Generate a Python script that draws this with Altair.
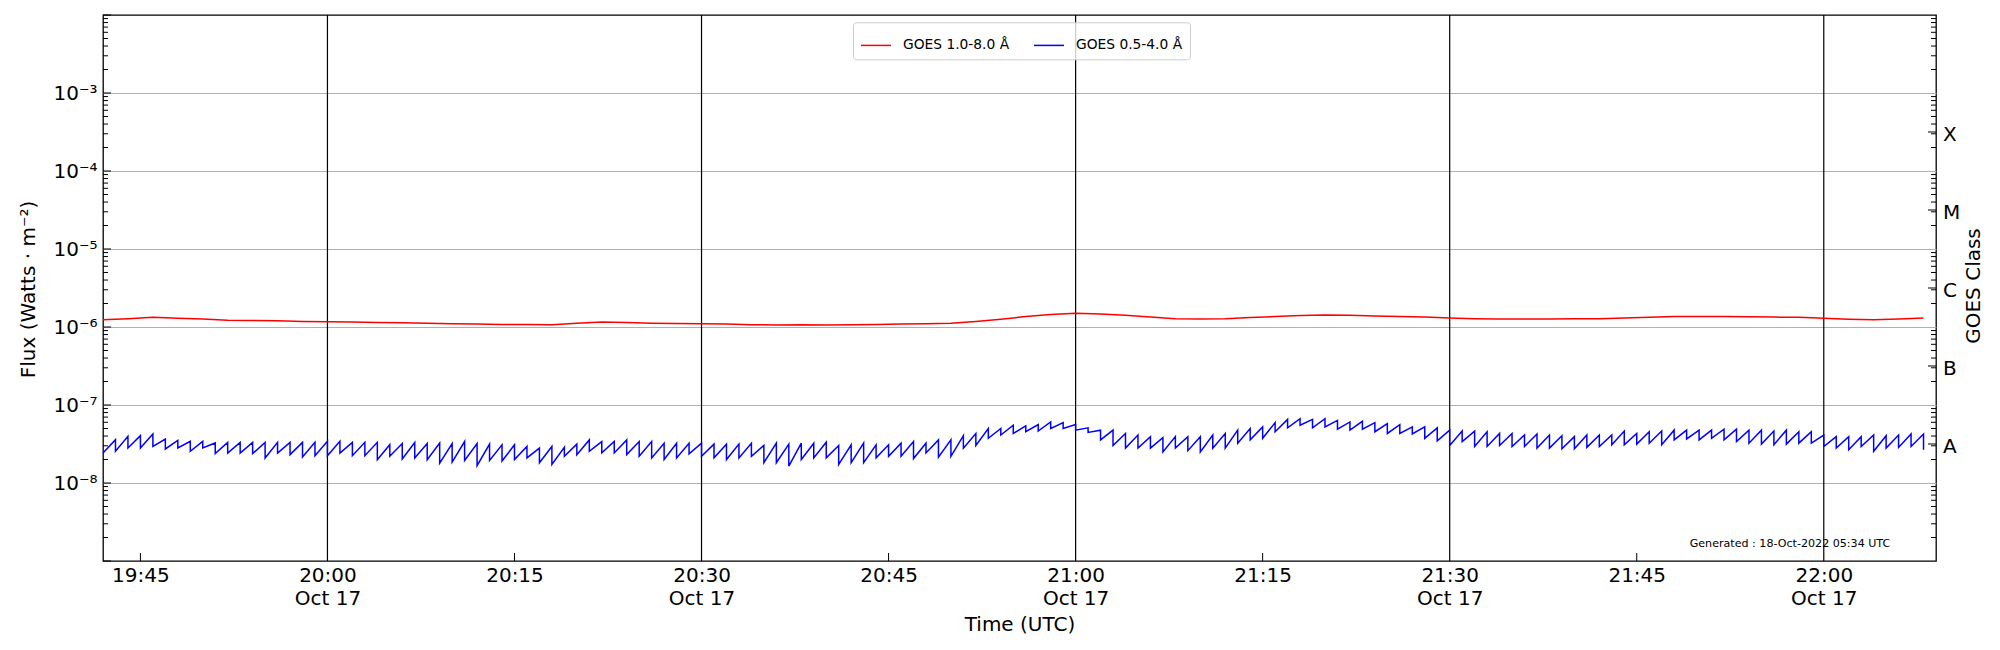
import altair as alt
import pandas as pd

LABEL_RED = "GOES 1.0-8.0 Å"
LABEL_BLUE = "GOES 0.5-4.0 Å"
FONT = "DejaVu Sans"

# ---- GOES 0.5-4.0 A (units of 1e-8 W m^-2) ----
blue_start = 2.43  # value at 19:42
# value reached just before each minute jump (19:43 ... 22:08)
blue_top = [
    3.59, 3.97, 4.05, 4.25, 3.66, 3.52, 3.42, 3.42, 3.26, 3.32, 3.32, 3.32, 3.32, 3.32, 3.32, 3.32, 3.32,
    3.42, 3.42, 3.32, 3.32, 3.32, 3.10, 3.20, 3.30, 3.20, 3.26,
    3.20, 3.40, 3.20, 3.15, 3.09, 3.09, 2.94, 2.80, 2.94, 2.86,
    3.15, 3.57, 3.40, 3.40, 3.57, 3.40, 3.40, 3.24, 3.24, 3.24,
    3.24, 3.15, 3.15, 3.15, 3.24, 3.03, 3.24, 3.15, 3.24, 3.24,
    3.33, 3.03, 3.09, 3.24, 3.09, 3.09, 3.24, 3.40, 3.24, 3.57,
    3.57, 4.04, 4.32, 5.00, 5.00, 5.50, 5.40, 5.61, 6.06, 5.94,
    5.61, 5.09, 4.76, 4.76, 4.32, 4.12, 3.93, 3.82, 3.93, 3.93,
    3.93, 4.12, 4.32, 4.76, 5.00, 5.24, 5.94, 6.54, 6.67, 6.54,
    6.67, 6.35, 6.06, 6.18, 5.94, 5.78, 5.61, 5.24, 5.24, 5.09,
    4.76, 4.63, 4.63, 4.54, 4.32, 4.32, 4.12, 4.25, 4.12, 4.04,
    3.93, 4.12, 4.12, 4.12, 4.63, 4.32, 4.54, 4.63, 4.76, 4.76,
    4.76, 4.76, 4.90, 4.90, 4.76, 4.76, 4.63, 4.76, 4.54, 4.54,
    4.12, 3.93, 3.93, 3.93, 4.12, 4.04, 4.12, 4.25, 4.25,
]
# value right after each minute jump (19:43 ... 22:08)
blue_bottom = [
    2.55, 2.81, 2.81, 2.95, 2.73, 2.81, 2.55, 2.81, 2.38, 2.42, 2.42, 2.38, 2.09, 2.42, 2.31, 2.15, 2.24,
    2.24, 2.42, 2.24, 2.24, 1.99, 2.20, 2.03, 2.09, 1.99, 1.80,
    1.85, 1.95, 1.67, 1.95, 1.91, 2.00, 2.10, 1.82, 1.73, 2.20,
    2.31, 2.55, 2.43, 2.43, 2.31, 2.20, 2.10, 2.00, 2.10, 2.36,
    2.20, 2.10, 2.00, 2.10, 2.20, 1.82, 1.82, 1.65, 2.00, 2.10,
    2.10, 1.73, 1.82, 1.82, 2.10, 2.20, 2.20, 2.06, 2.43, 2.14,
    2.20, 2.80, 3.03, 3.74, 4.12, 4.32, 4.54, 4.63, 5.00, 5.00,
    4.76, 4.45, 3.57, 3.03, 2.80, 2.80, 2.80, 2.50, 2.80, 2.60,
    2.50, 2.80, 2.80, 3.24, 3.57, 3.74, 4.54, 5.09, 5.50, 5.09,
    5.24, 4.90, 4.76, 4.90, 4.54, 4.32, 4.32, 4.25, 3.74, 3.47,
    3.03, 3.40, 2.94, 2.94, 3.03, 2.94, 2.94, 2.80, 2.80, 2.75,
    2.75, 2.86, 2.94, 3.09, 3.09, 3.15, 3.24, 3.09, 3.57, 3.67,
    3.57, 3.74, 3.57, 3.40, 3.24, 3.15, 3.09, 3.15, 3.24, 3.24,
    2.94, 2.80, 2.67, 2.94, 2.55, 2.80, 2.86, 2.94, 2.67,
]

# ---- GOES 1.0-8.0 A (units of 1e-6 W m^-2), every 2 minutes 19:42 ... 22:08 ----
red_vals = [
    1.24, 1.28, 1.33, 1.29, 1.27, 1.22, 1.21, 1.20, 1.18,
    1.17, 1.16, 1.14, 1.13, 1.12, 1.10, 1.09, 1.08, 1.08, 1.07,
    1.12, 1.16, 1.14, 1.12, 1.11, 1.10, 1.09, 1.07, 1.06, 1.07,
    1.06, 1.07, 1.08, 1.09, 1.10, 1.12, 1.18, 1.26, 1.36, 1.45,
    1.50, 1.47, 1.41, 1.34, 1.28, 1.27, 1.28, 1.32, 1.36, 1.40,
    1.42, 1.41, 1.38, 1.36, 1.34, 1.30, 1.28, 1.27, 1.27, 1.27,
    1.28, 1.28, 1.30, 1.33, 1.36, 1.36, 1.36, 1.35, 1.34, 1.33,
    1.29, 1.26, 1.24, 1.27, 1.30,
]

x_label_times = ["19:45", "20:00", "20:15", "20:30", "20:45", "21:00",
                 "21:15", "21:30", "21:45", "22:00"]
x_major_times = ["20:00", "20:30", "21:00", "21:30", "22:00"]
x_minor_times = ["19:45", "20:15", "20:45", "21:15", "21:45"]
y_label_vals = [1e-8, 1e-7, 1e-6, 1e-5, 1e-4, 1e-3]
class_names = ["A", "B", "C", "M", "X"]
class_exps = [-7.5, -6.5, -5.5, -4.5, -3.5]
GENERATED = "Generated : 18-Oct-2022 05:34 UTC"

DAY = "2022-10-17"


def iso(hm):
    return f"{DAY}T{hm}:00Z"


def ms(hm):
    return int(pd.Timestamp(iso(hm)).value // 10**6)


W, H = 1833, 546

# ---- build line table ----
rows = [{"t": iso("19:42"), "flux": blue_start * 1e-8, "series": LABEL_BLUE, "o": 0}]
minutes = pd.date_range(f"{DAY} 19:43", f"{DAY} 22:08", freq="1min")
for i, m in enumerate(minutes):
    ts = m.strftime("%Y-%m-%dT%H:%M:%SZ")
    rows.append({"t": ts, "flux": blue_top[i] * 1e-8, "series": LABEL_BLUE, "o": 2 * i + 1})
    rows.append({"t": ts, "flux": blue_bottom[i] * 1e-8, "series": LABEL_BLUE, "o": 2 * i + 2})
red_times = pd.date_range(f"{DAY} 19:42", f"{DAY} 22:08", freq="2min")
for i, m in enumerate(red_times):
    rows.append({"t": m.strftime("%Y-%m-%dT%H:%M:%SZ"), "flux": red_vals[i] * 1e-6,
                 "series": LABEL_RED, "o": i})
lines_df = pd.DataFrame(rows)

xscale = alt.Scale(type="utc", domain=[ms("19:42"), ms("22:09")])
yscale = alt.Scale(type="log", domain=[1e-9, 1e-2], nice=False)

sup = "['⁰','¹','²','³','⁴','⁵','⁶','⁷','⁸','⁹']"

lines = alt.Chart(lines_df).mark_line(strokeWidth=1.5).encode(
    x=alt.X("t:T", scale=xscale, axis=alt.Axis(
        values=[ms(t) for t in x_label_times],
        labelExpr="utcminutes(datum.value) % 30 == 0 ? [utcFormat(datum.value, '%H:%M'), utcFormat(datum.value, '%b %d')] : utcFormat(datum.value, '%H:%M')",
        ticks=False, tickSize=0, domain=False, grid=False,
        labelFontSize=20, labelPadding=4, labelLineHeight=23, labelColor="black",
        labelOverlap=False, labelFlush=False,
        title="Time (UTC)", titleFontSize=20, titleFontWeight="normal", titleColor="black",
        titleY=69, titleBaseline="alphabetic")),
    y=alt.Y("flux:Q", scale=yscale, axis=alt.Axis(
        values=y_label_vals,
        labelExpr="'10⁻' + " + sup + "[round(-log(datum.value)/LN10)]",
        ticks=False, tickSize=0, domain=False, grid=True, gridColor="#b0b0b0", gridWidth=1,
        labelFontSize=20, labelPadding=6, labelColor="black", labelOverlap=False,
        title="Flux (Watts · m⁻²)", titleFontSize=20, titleFontWeight="normal", titleColor="black",
        titleX=-75, titleY=274, titleAngle=270, titleAlign="center", titleBaseline="middle")),
    color=alt.Color("series:N",
                    scale=alt.Scale(domain=[LABEL_RED, LABEL_BLUE], range=["#ff0000", "#0000ff"]),
                    legend=alt.Legend(title=None, orient="none", legendX=750, legendY=7.3,
                                      direction="horizontal", columns=2,
                                      symbolType="stroke", symbolSize=900, symbolStrokeWidth=1.5,
                                      labelFontSize=13.8, labelFont=FONT, labelColor="black",
                                      labelOffset=11, columnPadding=21, padding=7,
                                      strokeColor="#cccccc", fillColor="rgba(255,255,255,0.8)",
                                      cornerRadius=3, labelLimit=300)),
    order="o:Q",
)

# vertical black grid lines at major ticks
vgrid = alt.Chart(pd.DataFrame({"t": [iso(t) for t in x_major_times]})).mark_rule(
    color="black", strokeWidth=1.2).encode(x=alt.X("t:T", scale=xscale, axis=None))

# bottom minor ticks (inward)
xticks = alt.Chart(pd.DataFrame({"t": [iso(t) for t in x_minor_times]})).mark_rule(
    color="black", strokeWidth=1).encode(
    x=alt.X("t:T", scale=xscale, axis=None), y=alt.value(H - 8), y2=alt.value(H))

minor_vals = [k * 10.0 ** n for n in range(-9, -2) for k in range(2, 10)]
major_vals = [10.0 ** n for n in range(-9, -1)]
class_vals = [10.0 ** e for e in class_exps]

left_major = alt.Chart(pd.DataFrame({"flux": major_vals})).mark_rule(color="black", strokeWidth=1).encode(
    y=alt.Y("flux:Q", scale=yscale, axis=None), x=alt.value(0), x2=alt.value(8))
left_minor = alt.Chart(pd.DataFrame({"flux": minor_vals})).mark_rule(color="black", strokeWidth=1).encode(
    y=alt.Y("flux:Q", scale=yscale, axis=None), x=alt.value(0), x2=alt.value(5))
right_minor = alt.Chart(pd.DataFrame({"flux": minor_vals})).mark_rule(color="black", strokeWidth=1).encode(
    y=alt.Y("flux:Q", scale=yscale, axis=None), x=alt.value(W - 5), x2=alt.value(W))
right_major = alt.Chart(pd.DataFrame({"flux": class_vals})).mark_rule(color="black", strokeWidth=1).encode(
    y=alt.Y("flux:Q", scale=yscale, axis=None), x=alt.value(W - 8), x2=alt.value(W))

class_labels = alt.Chart(pd.DataFrame({"flux": class_vals, "cls": class_names})).mark_text(
    align="left", baseline="middle", fontSize=20, font=FONT, color="black", dy=3).encode(
    y=alt.Y("flux:Q", scale=yscale, axis=None), x=alt.value(W + 7), text="cls:N")

class_title = alt.Chart(pd.DataFrame({"s": ["GOES Class"]})).mark_text(
    align="center", baseline="middle", fontSize=20, font=FONT, color="black", angle=270).encode(
    x=alt.value(W + 38), y=alt.value(H / 2 - 2), text="s:N")

generated = alt.Chart(pd.DataFrame({"s": [GENERATED]})).mark_text(
    align="left", baseline="middle", fontSize=11.1, font=FONT, color="black").encode(
    x=alt.value(1586.7), y=alt.value(529), text="s:N")

chart = alt.layer(
    vgrid, lines, xticks, left_major, left_minor, right_minor, right_major,
    class_labels, class_title, generated,
).resolve_axis(
    x="independent", y="independent"
).properties(
    width=W, height=H,
    autosize=alt.AutoSizeParams(type="none"),
    padding={"left": 95, "top": 7, "right": 56, "bottom": 79},
).configure_view(
    stroke="black", strokeWidth=1.3
).configure_axis(
    labelFont=FONT, titleFont=FONT
).configure_legend(
    labelFont=FONT
)

chart.save("out.html", embed_options={"renderer": "svg", "actions": False})
